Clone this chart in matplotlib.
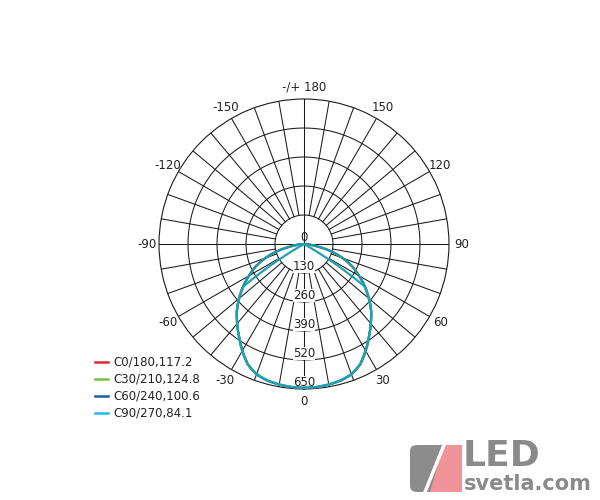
import numpy as np
import matplotlib
matplotlib.use('Agg')
from matplotlib import pyplot as plt
from matplotlib.lines import Line2D
from matplotlib.path import Path
from matplotlib.patches import FancyBboxPatch, Polygon, PathPatch

# gamma angles (degrees from nadir) and intensities, one half of each C-plane
gamma = [0, 5, 10, 15, 20, 25, 30, 35, 40, 45, 50, 55, 60, 65, 70, 75, 80, 85, 90]
c0_180 = [645, 644, 640, 634, 622, 596, 553, 508, 466, 426, 380, 334, 285, 240, 185, 125, 55, 12, 0]
c30_210 = [644, 643, 639, 633, 621, 595, 552, 507, 465, 425, 379, 333, 284, 239, 184, 124, 54, 11, 0]
c60_240 = [645, 644, 640, 634, 622, 596, 553, 508, 466, 426, 380, 334, 285, 240, 185, 125, 55, 12, 0]
c90_270 = [645, 644, 640, 634, 622, 596, 553, 508, 466, 426, 380, 330, 0, 0, 0, 0, 0, 0, 0]

series_names = ['C0/180,117.2', 'C30/210,124.8', 'C60/240,100.6', 'C90/270,84.1']
legend_colors = ['#e2252b', '#7bc043', '#1f5aa6', '#29b6e6']
line_colors = ['#d2452c', '#3aa48a', '#1d98ac', '#1fa2b4']

ring_values = [130, 260, 390, 520, 650]
angle_ticks = [0, 30, 60, 90, 120, 150, 180, -150, -120, -90, -60, -30]
angle_labels = ['0', '30', '60', '90', '120', '150', '-/+ 180', '-150', '-120', '-90', '-60', '-30']

RMAX = 650
GRID = '#1a1a1a'
TXT = '#222222'

fig = plt.figure(figsize=(6, 5), dpi=100)
ax = fig.add_axes([0.265, 0.222, 0.4833, 0.58], projection='polar')
ax.set_theta_zero_location('S')
ax.set_theta_direction(1)
ax.set_ylim(0, RMAX)
ax.set_xticks([])
ax.set_yticks([])
ax.grid(False)
ax.spines['polar'].set_linewidth(0.8)
ax.spines['polar'].set_color(GRID)

# rings
t = np.linspace(0, 2 * np.pi, 721)
for rv in ring_values[:-1]:
    ax.plot(t, np.full_like(t, rv), color=GRID, lw=0.75, zorder=1)

# spokes every 10 degrees, starting at the first ring
for a in range(-170, 181, 10):
    if a in (0, 90, -90, 180):
        ax.plot([np.radians(a)] * 2, [0, RMAX], color=GRID, lw=0.75, zorder=1)
    else:
        ax.plot([np.radians(a)] * 2, [ring_values[0], RMAX], color=GRID, lw=0.75, zorder=1)

# curves, mirrored to both sides of the plane; drawn as polar-interpolated paths
g = np.array(gamma, dtype=float)
full_angle = np.radians(np.concatenate([-g[::-1], g[1:]]))
for vals, col in zip([c0_180, c30_210, c60_240, c90_270], line_colors):
    v = np.array(vals, dtype=float)
    full_r = np.concatenate([v[::-1], v[1:]])
    p = Path(np.column_stack([full_angle, full_r]), _interpolation_steps=30)
    ax.add_patch(PathPatch(p, fill=False, edgecolor=col, lw=1.6, zorder=3,
                           joinstyle='round', capstyle='round'))

# angle labels outside
for a, lab in zip(angle_ticks, angle_labels):
    ax.text(np.radians(a), 705, lab, ha='center', va='center', fontsize=8.5,
            color=TXT, clip_on=False)

# radial labels along the 0 line (under the curves, over the grid)
ax.text(0, 0, '0', ha='center', va='bottom', fontsize=8.5, color=TXT, zorder=2)
for rv in ring_values:
    ax.text(0, rv - 28, str(rv), ha='center', va='center', fontsize=8.5, color=TXT,
            zorder=2, bbox=dict(facecolor='white', edgecolor='none', pad=0.0))

# legend
for i, (name, col) in enumerate(zip(series_names, legend_colors)):
    y = 1 - (362 + i * 17) / 500
    fig.add_artist(Line2D([95 / 600, 108 / 600], [y, y], color=col, lw=1.8))
    fig.text(113 / 600, y, name, ha='left', va='center', fontsize=8.5, color=TXT)

# watermark logo
fig.add_artist(FancyBboxPatch((410 / 600, 1 - 492 / 500), 50 / 600, 47 / 500,
                              boxstyle='round,pad=0,rounding_size=0.012',
                              transform=fig.transFigure, facecolor='#8c8c8c',
                              edgecolor='none'))
fig.add_artist(Polygon([(430 / 600, 1 - 492 / 500), (462 / 600, 1 - 492 / 500),
                        (462 / 600, 1 - 445 / 500), (444 / 600, 1 - 445 / 500)],
                       closed=True, transform=fig.transFigure,
                       facecolor='#f1949a', edgecolor='none'))
fig.add_artist(Line2D([425 / 600, 444 / 600], [1 - 492 / 500, 1 - 445 / 500],
                      color='white', lw=2.5))
fig.text(463 / 600, 1 - 456 / 500, 'LED', ha='left', va='center', fontsize=26,
         fontweight='bold', color='#8a8a8a')
fig.text(464 / 600, 1 - 484 / 500, 'svetla.com', ha='left', va='center', fontsize=15,
         fontweight='bold', color='#8a8a8a')

fig.savefig('out.png', dpi=100, facecolor='white')
